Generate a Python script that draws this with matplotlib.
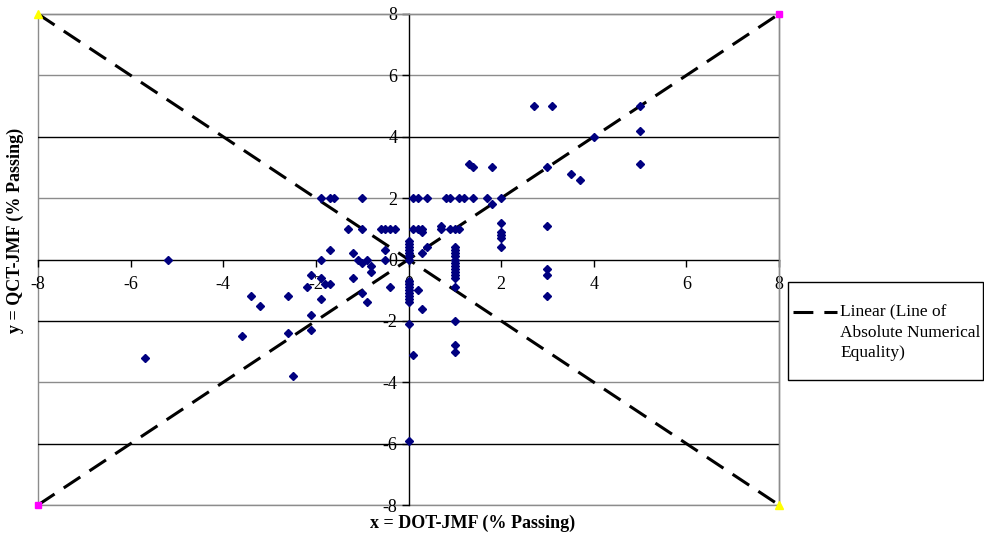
import matplotlib
matplotlib.use("Agg")
import matplotlib.pyplot as plt
from matplotlib.patches import Rectangle
from matplotlib.lines import Line2D

# ---- data ----
x_vals = [
    # row y = 2
    -1.9, -1.7, -1.6, -1.0, 0.1, 0.2, 0.4, 0.8, 0.9, 1.1, 1.2, 1.4, 1.7, 2.0, 1.8,
    # row y = 1
    -1.3, -1.0, -0.6, -0.5, -0.4, -0.3, 0.1, 0.2, 0.3, 0.7, 0.9, 1.0, 1.1, 0.3, 0.7,
    # column x = 0
    0.0, 0.0, 0.0, 0.0, 0.0, 0.0, 0.0,
    0.0, 0.0, 0.0, 0.0, 0.0, 0.0, 0.0, 0.0, 0.0, 0.0, 0.1,
    # column x = 1
    1.0, 1.0, 1.0, 1.0, 1.0, 1.0, 1.0, 1.0, 1.0, 1.0, 1.0, 1.0, 1.0, 1.0, 1.0,
    0.3, 0.2, 0.3, 0.4,
    # column x = 2
    2.0, 2.0, 2.0, 2.0, 2.0,
    # column x = 3
    3.0, 3.0, 3.0, 3.0, 3.0,
    # upper right
    2.7, 3.1, 5.0, 5.0, 5.0, 4.0, 3.5, 3.7, 1.8, 1.3, 1.4,
    # left side
    -5.2, -5.7, -3.4, -3.2, -3.6, -2.6, -2.6, -2.5, -2.1, -2.2, -1.9, -1.7,
    -1.9, -1.8, -1.7, -1.9, -2.1, -2.1,
    -1.2, -1.1, -1.0, -0.9, -0.8, -0.8, -0.5, -0.5, -1.2, -0.4, -1.0, -0.9,
]
y_vals = [
    2.0, 2.0, 2.0, 2.0, 2.0, 2.0, 2.0, 2.0, 2.0, 2.0, 2.0, 2.0, 2.0, 2.0, 1.8,
    1.0, 1.0, 1.0, 1.0, 1.0, 1.0, 1.0, 1.0, 1.0, 1.0, 1.0, 1.0, 1.0, 0.9, 1.1,
    0.6, 0.5, 0.4, 0.3, 0.2, 0.1, 0.0,
    -0.7, -0.8, -0.9, -1.0, -1.1, -1.2, -1.3, -1.4, -2.1, -5.9, -3.1,
    0.4, 0.3, 0.2, 0.1, 0.0, -0.1, -0.2, -0.3, -0.4, -0.5, -0.6, -0.9, -2.0, -2.8, -3.0,
    -1.6, -1.0, 0.2, 0.4,
    1.2, 0.9, 0.8, 0.7, 0.4,
    3.0, 1.1, -0.3, -0.5, -1.2,
    5.0, 5.0, 5.0, 4.2, 3.1, 4.0, 2.8, 2.6, 3.0, 3.1, 3.0,
    0.0, -3.2, -1.2, -1.5, -2.5, -1.2, -2.4, -3.8, -0.5, -0.9, 0.0, 0.3,
    -0.6, -0.8, -0.8, -1.3, -1.8, -2.3,
    0.2, 0.0, -0.1, 0.0, -0.2, -0.4, 0.3, 0.0, -0.6, -0.9, -1.1, -1.4,
]

equality_x = [-8, 8]
equality_y = [-8, 8]
opposite_x = [-8, 8]
opposite_y = [8, -8]

ticks = [-8, -6, -4, -2, 0, 2, 4, 6, 8]
grid_levels = [6, 4, 2, -2, -4, -6, -8]
grid_colors = ["#8c8c8c", "#000000", "#8c8c8c", "#000000", "#8c8c8c", "#000000", "#8c8c8c"]

legend_label = "Linear (Line of\nAbsolute Numerical\nEquality)"
x_title = "x = DOT-JMF (% Passing)"
y_title = "y = QCT-JMF (% Passing)"

serif = ["Liberation Serif", "DejaVu Serif"]
plt.rcParams["font.family"] = serif

W, H = 984, 547
fig = plt.figure(figsize=(W / 100, H / 100), dpi=100)
ax = fig.add_axes([38 / W, 1 - 505 / H, (779 - 38) / W, (505 - 14) / H])

ax.set_xlim(-8, 8)
ax.set_ylim(-8, 8)

for lvl, col in zip(grid_levels, grid_colors):
    ax.axhline(lvl, color=col, lw=1.0, zorder=1)

dash = (0, (6.5, 3.6))
ax.plot(equality_x, equality_y, color="black", lw=2.2, linestyle=dash, zorder=3)
ax.plot(opposite_x, opposite_y, color="black", lw=2.2, linestyle=dash, zorder=3)

ax.plot(x_vals, y_vals, linestyle="none", marker="D", ms=4.2,
        color="#000080", mec="#000080", zorder=4)

ax.plot(equality_x, equality_y, linestyle="none", marker="s", ms=4.5,
        color="#ff00ff", zorder=5, clip_on=False)
ax.plot(opposite_x, opposite_y, linestyle="none", marker="^", ms=6,
        color="#ffff00", zorder=5, clip_on=False)

# spines through origin
ax.spines["left"].set_position(("data", 0))
ax.spines["bottom"].set_position(("data", 0))
for s in ("left", "bottom"):
    ax.spines[s].set_color("black")
    ax.spines[s].set_linewidth(1.0)
    ax.spines[s].set_zorder(2)
for s in ("top", "right"):
    ax.spines[s].set_color("#8c8c8c")
    ax.spines[s].set_linewidth(1.0)
# outer gray border
ax.add_patch(Rectangle((0, 0), 1, 1, transform=ax.transAxes, fill=False,
                       edgecolor="#8c8c8c", lw=1.0, zorder=0, clip_on=False))

ax.set_xticks(ticks)
ax.set_yticks(ticks)
ax.set_xticklabels([str(t) for t in ticks])
ax.set_yticklabels([str(t) for t in ticks])
ax.tick_params(axis="both", direction="out", length=5, width=1, color="black",
               labelsize=13, labelcolor="black")
ax.tick_params(axis="x", pad=7)
ax.tick_params(axis="y", pad=3)

fig.text(473 / W, 1 - 523 / H, x_title, ha="center", va="center",
         fontsize=13, fontweight="bold", family=serif)
fig.text(15 / W, 1 - 230 / H, y_title, ha="center", va="center",
         rotation=90, fontsize=13, fontweight="bold", family=serif)

# legend box
fig.patches.append(Rectangle((788 / W, 1 - 380 / H), (983 - 788) / W, (380 - 282) / H,
                             transform=fig.transFigure, fill=False,
                             edgecolor="black", lw=1.0))
fig.lines.append(Line2D([793 / W, 837 / W], [1 - 312 / H, 1 - 312 / H],
                        transform=fig.transFigure, color="black", lw=2.2,
                        linestyle=dash))
fig.text(840 / W, 1 - 304 / H, legend_label, ha="left", va="top",
         fontsize=12.5, family=serif, linespacing=1.38,
         transform=fig.transFigure)

fig.savefig("out.png", dpi=100)
